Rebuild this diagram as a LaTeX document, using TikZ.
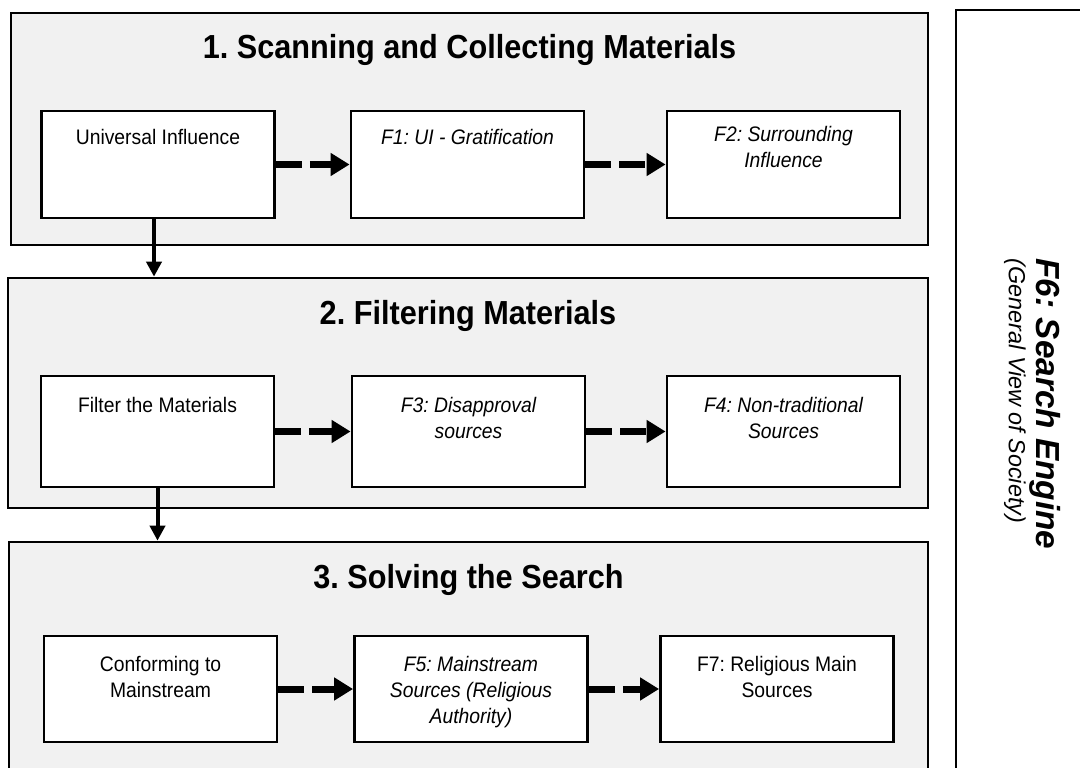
\documentclass[tikz,border=0pt]{standalone}
\usepackage{fontspec}
\setmainfont{Liberation Sans}[FakeStretch=0.92]
\newfontfamily\sidefont{Liberation Sans}
\usetikzlibrary{arrows.meta}
\definecolor{panelgray}{RGB}{241,241,241}
\frenchspacing
\begin{document}
\begin{tikzpicture}[x=0.75pt,y=-0.75pt,
  panel/.style={draw, line width=2pt, fill=panelgray, inner sep=0pt},
  box/.style={draw, line width=1.9pt, fill=white, minimum width=175pt, inner sep=0pt},
  row1/.style={box, minimum height=80.25pt},
  row2/.style={box, minimum height=83.25pt},
  row3/.style={box, minimum height=79.5pt},
  title/.style={font=\fontsize{25}{30}\selectfont\bfseries, anchor=base, inner sep=0pt},
  lbl/.style={font=\fontsize{15.75}{19.5}\selectfont, align=center, anchor=north, inner sep=0pt},
  dasharrow/.style={line width=5.25pt, dash pattern=on 19.5pt off 6pt,
    -{Triangle[length=14.25pt,width=16.5pt]}},
  downarrow/.style={line width=3pt, -{Triangle[length=11.25pt,width=11.25pt]}}
]
\useasboundingbox (0,0) rectangle (1080,767);
\clip (0,0) rectangle (1080,767);

% stage panels
\node[panel, minimum width=687.75pt, minimum height=174pt] (p1) at (469.5,129) {};
\node[panel, minimum width=690pt, minimum height=172.5pt] (p2) at (468,393) {};
\node[panel, minimum width=689.25pt, minimum height=193.5pt] (p3) at (468.5,671) {};
% side panel
\node[draw, line width=2pt, fill=white, minimum width=108pt, minimum height=592.5pt] (p6) at (1028,405) {};

% stage titles
\node[title] (t1) at (469.5,59) {1. Scanning and Collecting Materials};
\node[title] (t2) at (468,324) {2. Filtering Materials};
\node[title] (t3) at (468.5,588) {3. Solving the Search};

% stage 1
\node[row1] (ui) at (158,164.5) {};
\node[row1] (f1) at (467.5,164.5) {};
\node[row1] (f2) at (783.5,164.5) {};
\node[lbl] (ui-t) at ([yshift=-14.5pt]ui.north) {Universal Influence};
\node[lbl] (f1-t) at ([yshift=-14.5pt]f1.north) {\itshape F1: UI - Gratification};
\node[lbl] (f2-t) at ([yshift=-12pt]f2.north) {\itshape F2: Surrounding\\\itshape Influence};

% stage 2
\node[row2] (fm) at (157.5,431.5) {};
\node[row2] (f3) at (468.5,431.5) {};
\node[row2] (f4) at (783.5,431.5) {};
\node[lbl] (fm-t) at ([yshift=-17pt]fm.north) {Filter the Materials};
\node[lbl] (f3-t) at ([yshift=-17pt]f3.north) {\itshape F3: Disapproval\\\itshape sources};
\node[lbl] (f4-t) at ([yshift=-17pt]f4.north) {\itshape F4: Non-traditional\\\itshape Sources};

% stage 3
\node[row3] (cm) at (160.5,689) {};
\node[row3] (f5) at (471,689) {};
\node[row3] (f7) at (777,689) {};
\node[lbl] (cm-t) at ([yshift=-16pt]cm.north) {Conforming to\\Mainstream};
\node[lbl] (f5-t) at ([yshift=-16pt]f5.north) {\itshape F5: Mainstream\\\itshape Sources (Religious\\\itshape Authority)};
\node[lbl] (f7-t) at ([yshift=-16pt]f7.north) {F7: Religious Main\\Sources};

% flow inside each stage
\draw[dasharrow] (ui.east) -- (f1.west);
\draw[dasharrow] (f1.east) -- (f2.west);
\draw[dasharrow] (fm.east) -- (f3.west);
\draw[dasharrow] (f3.east) -- (f4.west);
\draw[dasharrow] (cm.east) -- (f5.west);
\draw[dasharrow] (f5.east) -- (f7.west);

% flow between stages
\draw[downarrow] ([xshift=-3pt]ui.south) -- ([xshift=-3pt]ui.south |- p2.north);
\draw[downarrow] (fm.south) -- (fm.south |- p3.north);

% side panel text
\node[rotate=-90, inner sep=0pt, font=\sidefont\fontsize{25}{30}\selectfont\bfseries\itshape] (f6) at (1045,404) {F6: Search Engine};
\node[rotate=-90, inner sep=0pt, font=\sidefont\fontsize{17.5}{21}\selectfont\itshape] (f6s) at (1015,391) {(General View of Society)};
\end{tikzpicture}
\end{document}
